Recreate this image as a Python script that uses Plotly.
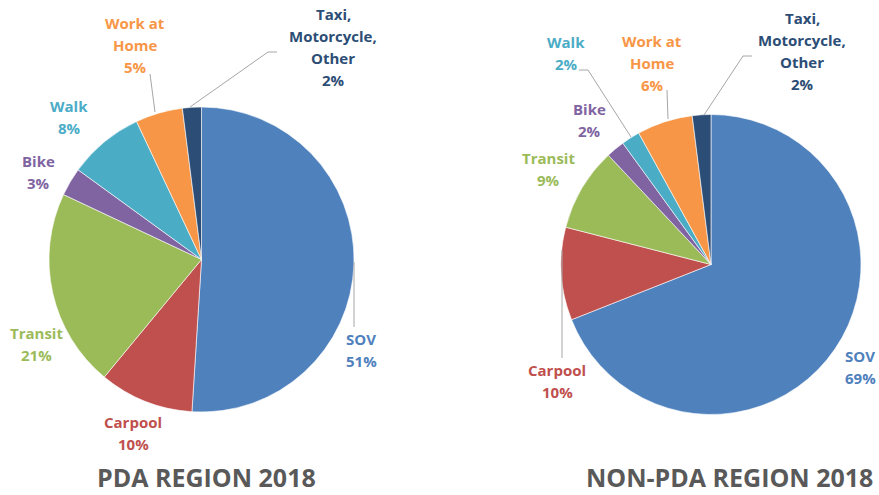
import plotly.graph_objects as go

W, H = 879, 495

# ---- data ----
modes = ["SOV", "Carpool", "Transit", "Bike", "Walk", "Work at Home", "Taxi, Motorcycle, Other"]
pda_2018 = [51, 10, 21, 3, 8, 5, 2]
non_pda_2018 = [69, 10, 9, 2, 2, 6, 2]
titles = ["PDA REGION 2018", "NON-PDA REGION 2018"]

# ---- styles ----
colors = ["#4F81BD", "#C0504D", "#9BBB59", "#8064A2", "#4BACC6", "#F79646", "#2C4D75"]
label_lines = {
    "SOV": ["SOV"],
    "Carpool": ["Carpool"],
    "Transit": ["Transit"],
    "Bike": ["Bike"],
    "Walk": ["Walk"],
    "Work at Home": ["Work at", "Home"],
    "Taxi, Motorcycle, Other": ["Taxi,", "Motorcycle,", "Other"],
}

# pie placement in pixels: (cx, cy, r)
pie_geo = [(201.5, 259.5, 152.5), (711, 264.5, 150)]
# label block centres in pixels
label_pos = [
    {"SOV": (361, 350), "Carpool": (133, 433), "Transit": (36, 344), "Bike": (38, 172),
     "Walk": (69, 117), "Work at Home": (135, 45), "Taxi, Motorcycle, Other": (333, 47)},
    {"SOV": (860, 367), "Carpool": (557, 381), "Transit": (548, 169), "Bike": (589, 120),
     "Walk": (566, 53), "Work at Home": (652, 63), "Taxi, Motorcycle, Other": (802, 51)},
]
leader_paths = [
    [[(150, 74), (155, 112)], [(277, 52), (268, 52), (190, 107)], [(354, 262), (354, 327)]],
    [[(579, 70), (588, 70), (631, 137)], [(667, 90), (668, 119)],
     [(752, 56), (743, 56), (704, 115)], [(562, 250), (562, 358)]],
]
title_pos = [(206, 477), (729, 477)]
LINE_H = 22


def px(x):
    return x / W


def py(y):
    return 1 - y / H


fig = go.Figure()
annotations = []
shapes = []

for k, vals in enumerate([pda_2018, non_pda_2018]):
    cx, cy, r = pie_geo[k]
    fig.add_trace(go.Pie(
        labels=modes, values=vals, sort=False, direction="clockwise", rotation=0,
        marker=dict(colors=colors, line=dict(color="white", width=0.6)),
        textinfo="none", hoverinfo="label+percent", showlegend=False,
        domain=dict(x=[px(cx - r), px(cx + r)], y=[py(cy + r), py(cy - r)]),
    ))
    for i, (m, v) in enumerate(zip(modes, vals)):
        lines = label_lines[m] + [f"{v}%"]
        lx, ly = label_pos[k][m]
        n = len(lines)
        for j, t in enumerate(lines):
            yy = ly + (j - (n - 1) / 2) * LINE_H
            annotations.append(dict(
                x=px(lx), y=py(yy), xref="paper", yref="paper", text=t, showarrow=False,
                xanchor="center", yanchor="middle",
                font=dict(family="Open Sans", size=15, color=colors[i], weight="bold"),
            ))
    for path in leader_paths[k]:
        d = "M " + " L ".join(f"{px(x)},{py(y)}" for x, y in path)
        shapes.append(dict(type="path", path=d, xref="paper", yref="paper",
                           line=dict(color="#A6A6A6", width=1)))
    tx, ty = title_pos[k]
    annotations.append(dict(
        x=px(tx), y=py(ty), xref="paper", yref="paper", text=titles[k], showarrow=False,
        xanchor="center", yanchor="middle",
        font=dict(family="Open Sans", size=25, color="#595959", weight="bold"),
    ))

fig.update_layout(
    width=W, height=H, margin=dict(l=0, r=0, t=0, b=0),
    paper_bgcolor="white", plot_bgcolor="white",
    annotations=annotations, shapes=shapes,
)

fig.write_html("out.html", config={"displayModeBar": False},
               post_script="document.body.style.margin='0';")
